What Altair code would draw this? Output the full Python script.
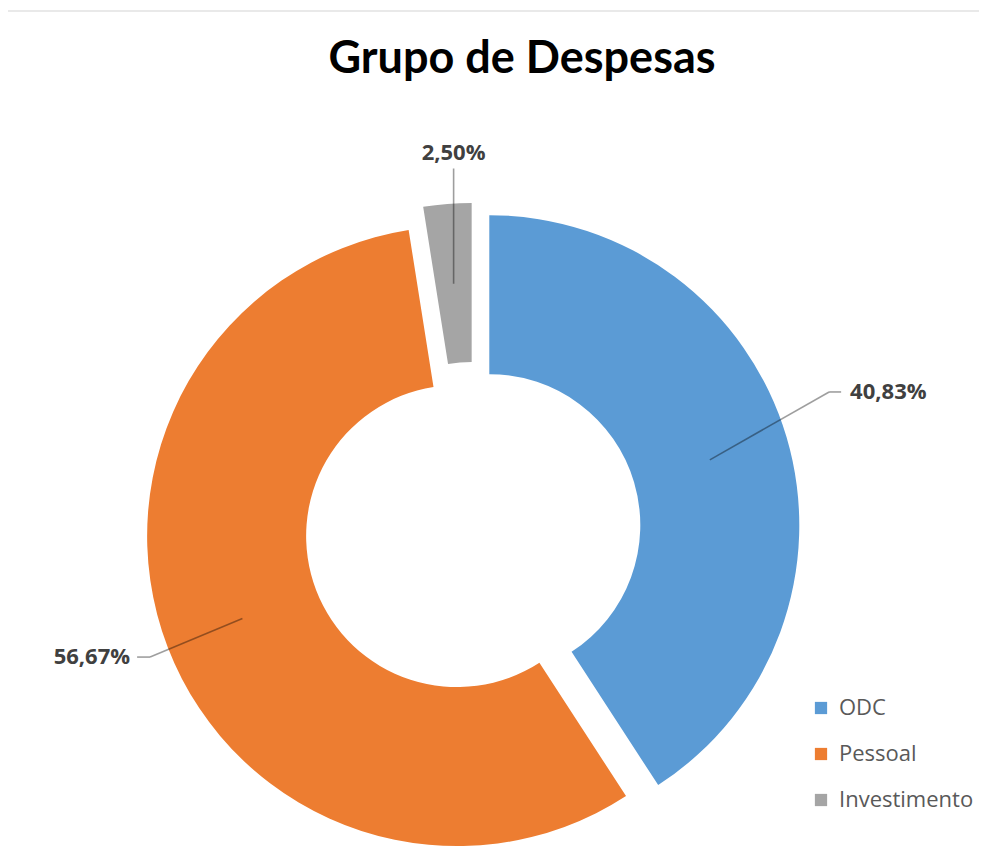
import altair as alt
import pandas as pd

# ---- data ----
categories = ["ODC", "Pessoal", "Investimento"]
shares = [40.83, 56.67, 2.50]
label_texts = ["40,83%", "56,67%", "2,50%"]
order = [0, 1, 2]

# ---- styles / layout ----
colors = ["#5B9BD5", "#ED7D31", "#A5A5A5"]
OFF = 8                      # page margin
CX, CY = 473 - OFF, 530 - OFF
R_OUT, R_IN = 310, 151
EXPLODE = 17
R_LEAD = 230
label_adj_deg = [-4.9, -0.5, 1.5]   # angle tweak of leader elbow
label_r_elbow = [365, 330, 345]
label_tail = [12, -13, 0]

df = pd.DataFrame({
    "cat": categories,
    "value": shares,
    "label": label_texts,
    "order": order,
    "adj": label_adj_deg,
    "relb": label_r_elbow,
    "tail": label_tail,
})

base = (
    alt.Chart(df)
    .transform_joinaggregate(total="sum(value)")
    .transform_window(cum="sum(value)", sort=[alt.SortField("order")], frame=[None, 0])
    .transform_calculate(t0="2*PI*(datum.cum - datum.value)/datum.total")
    .transform_calculate(t1="2*PI*datum.cum/datum.total")
    .transform_calculate(mid="(datum.t0 + datum.t1)/2")
    .transform_calculate(sx=f"{CX} + {EXPLODE}*sin(datum.mid)")
    .transform_calculate(sy=f"{CY} - {EXPLODE}*cos(datum.mid)")
    .transform_calculate(ax=f"datum.sx + {R_LEAD}*sin(datum.mid)")
    .transform_calculate(ay=f"datum.sy - {R_LEAD}*cos(datum.mid)")
    .transform_calculate(ea="datum.mid + datum.adj*PI/180")
    .transform_calculate(bx="datum.sx + datum.relb*sin(datum.ea)")
    .transform_calculate(by="datum.sy - datum.relb*cos(datum.ea)")
    .transform_calculate(cx2="datum.bx + datum.tail")
)

arcs = base.mark_arc(outerRadius=R_OUT, innerRadius=R_IN).encode(
    theta=alt.Theta("t0:Q", scale=None, stack=None),
    theta2="t1:Q",
    x=alt.X("sx:Q", scale=None, axis=None),
    y=alt.Y("sy:Q", scale=None, axis=None),
    color=alt.Color(
        "cat:N",
        scale=alt.Scale(domain=categories, range=colors),
        legend=alt.Legend(
            title=None,
            orient="none",
            legendX=802,
            legendY=689,
            symbolType="square",
            symbolSize=150,
            symbolStrokeWidth=0,
            labelFontSize=22,
            labelFont="Open Sans",
            labelColor="#595959",
            labelOffset=7,
            rowPadding=24,
        ),
    ),
    order=alt.Order("order:Q"),
)

lead_style = dict(color="#000000", opacity=0.38, strokeWidth=1.6)

lead1 = base.mark_rule(**lead_style).encode(
    x=alt.X("ax:Q", scale=None), y=alt.Y("ay:Q", scale=None),
    x2="bx:Q", y2="by:Q",
)
lead2 = base.mark_rule(**lead_style).encode(
    x=alt.X("bx:Q", scale=None), y=alt.Y("by:Q", scale=None),
    x2="cx2:Q", y2="by:Q",
)

txt_style = dict(font="Open Sans", fontWeight="bold", fontSize=22, color="#404040")

lab_right = base.transform_filter("datum.tail > 0").mark_text(
    align="left", baseline="middle", dx=9, **txt_style
).encode(x=alt.X("cx2:Q", scale=None), y=alt.Y("by:Q", scale=None), text="label:N")

lab_left = base.transform_filter("datum.tail < 0").mark_text(
    align="right", baseline="middle", dx=-7, **txt_style
).encode(x=alt.X("cx2:Q", scale=None), y=alt.Y("by:Q", scale=None), text="label:N")

lab_top = base.transform_filter("datum.tail == 0").mark_text(
    align="center", baseline="bottom", dy=-4, **txt_style
).encode(x=alt.X("cx2:Q", scale=None), y=alt.Y("by:Q", scale=None), text="label:N")

title = alt.Chart(pd.DataFrame({"t": ["Grupo de Despesas"]})).mark_text(
    font="Lato", fontWeight="bold", fontSize=45, color="#000000",
    align="center", baseline="alphabetic",
).encode(x=alt.value(522 - OFF), y=alt.value(73 - OFF), text="t:N")

topline = alt.Chart(pd.DataFrame({"a": [0]})).mark_rule(color="#e2e2e2", strokeWidth=1.5).encode(
    x=alt.value(0), x2=alt.value(971), y=alt.value(11 - OFF)
)

chart = (
    alt.layer(topline, arcs, lead1, lead2, lab_right, lab_left, lab_top, title)
    .properties(width=971, height=850, autosize=alt.AutoSizeParams(type="none"), padding=0)
    .configure_view(stroke=None)
)

chart.save("out.html", embed_options={"renderer": "svg", "actions": False})
